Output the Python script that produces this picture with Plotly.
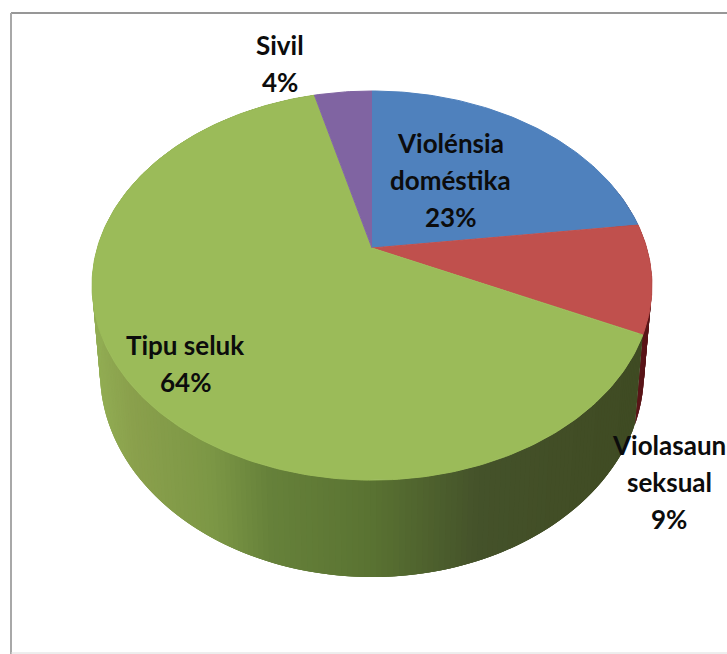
import numpy as np
import plotly.graph_objects as go

categories = ["Violénsia<br>doméstika", "Violasaun<br>seksual", "Tipu seluk", "Sivil"]
values = [23, 9, 64, 4]
colors = ["#4F81BD", "#C0504D", "#9BBB59", "#8064A2"]
wall_red = "#5A1518"
label_pos = [(450, 143), (669, 445), (185, 345), (280, 45)]
LINE_STEP = 37

# projection of the pie disc (perspective)
K = 0.193
TOP = dict(x0=372, y0=248, a=274.7, b=187.3)
BOT = dict(x0=372, y0=332.4, a=266.9, b=197.4)

# side wall shading over screen x
shade_x = [90, 130, 210, 270, 370, 480, 560, 660]
shade_r = [146, 138, 124, 102, 90, 68, 66, 62]
shade_g = [174, 160, 151, 129, 115, 82, 78, 74]
shade_b = [84, 76, 69, 58, 50, 42, 38, 34]


def proj(theta_deg, d):
    t = np.radians(theta_deg)
    den = 1 + K * np.cos(t)
    return d["x0"] + d["a"] * np.sin(t) / den, d["y0"] - d["b"] * np.cos(t) / den


fig = go.Figure()
edges = np.cumsum([0] + values) * 3.6


# side wall as overlapping strips, painted from right to left
def wall(start, end, colorfn):
    n = max(2, int((end - start) / 1.0) + 1)
    th = np.linspace(start, end, n)
    step = th[1] - th[0]
    for a in th[:-1]:
        b = min(a + step * 3, end)
        x1, y1 = proj(np.array([a, b]), TOP)
        x2, y2 = proj(np.array([b, a]), BOT)
        xm, _ = proj(a + step / 2, TOP)
        c = colorfn(xm)
        fig.add_trace(go.Scatter(x=list(x1) + list(x2), y=list(y1) + list(y2), fill="toself",
                                 mode="none", fillcolor=c,
                                 hoverinfo="skip", showlegend=False))


def green_shade(x):
    r = np.interp(x, shade_x, shade_r)
    g = np.interp(x, shade_x, shade_g)
    b = np.interp(x, shade_x, shade_b)
    return f"rgb({r:.0f},{g:.0f},{b:.0f})"


wall(70, edges[2], lambda x: wall_red)
wall(edges[2], edges[3], green_shade)

# top surface
for i, (name, val) in enumerate(zip(categories, values)):
    th = np.linspace(edges[i], edges[i + 1], max(3, int(val * 3.6)))
    xs, ys = proj(th, TOP)
    fig.add_trace(go.Scatter(x=[TOP["x0"]] + list(xs), y=[TOP["y0"]] + list(ys), fill="toself",
                             mode="lines", line=dict(color=colors[i], width=1), fillcolor=colors[i],
                             name=name.replace("<br>", " "), hoverinfo="skip", showlegend=False))

for name, val, (lx, ly) in zip(categories, values, label_pos):
    for j, line in enumerate(name.split("<br>") + [f"{val}%"]):
        fig.add_annotation(x=lx, y=ly + j * LINE_STEP, text=f"<b>{line}</b>", showarrow=False,
                           font=dict(family="Lato", size=26, color="#0c0c0c"),
                           xanchor="center", yanchor="middle", align="center", borderpad=0)

frame = "#979797"
fig.add_shape(type="line", x0=11, x1=727, y0=13, y1=13, line=dict(color=frame, width=2))
fig.add_shape(type="line", x0=11, x1=11, y0=13, y1=654, line=dict(color="#a8a8a8", width=2))
fig.add_shape(type="line", x0=11, x1=727, y0=653, y1=653, line=dict(color="#dcdcdc", width=1))

fig.update_layout(width=727, height=654, margin=dict(l=0, r=0, t=0, b=0),
                  paper_bgcolor="white", plot_bgcolor="white", showlegend=False,
                  xaxis=dict(range=[0, 727], visible=False, fixedrange=True),
                  yaxis=dict(range=[654, 0], visible=False, fixedrange=True))
fig.write_html("out.html", config=dict(displayModeBar=False),
               post_script="document.body.style.margin='0';document.documentElement.style.overflow='hidden';")
